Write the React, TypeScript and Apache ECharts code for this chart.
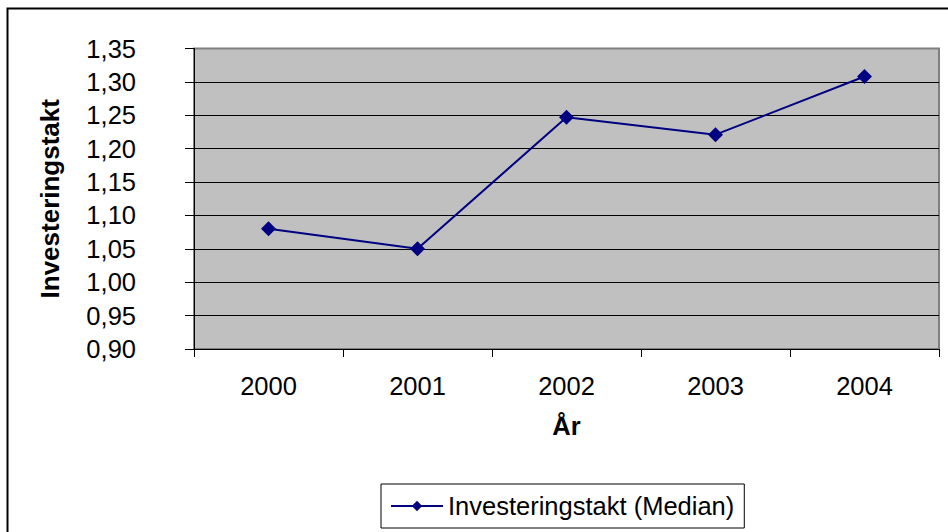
import React, { useEffect, useRef } from "react";
import * as echarts from "echarts";

const years = ["2000", "2001", "2002", "2003", "2004"];
const medianValues = [1.08, 1.05, 1.247, 1.221, 1.308];
const seriesName = "Investeringstakt (Median)";
const yAxisTitle = "Investeringstakt";
const xAxisTitle = "År";

const FONT = "'Liberation Sans', Arial, sans-serif";

export default function App() {
  const ref = useRef<HTMLDivElement>(null);
  useEffect(() => {
    document.body.style.margin = "0";
    if (!ref.current) return;
    const chart = echarts.init(ref.current, undefined, { renderer: "svg" });
    chart.setOption({
      animation: false,
      backgroundColor: "#ffffff",
      textStyle: { fontFamily: FONT },
      grid: {
        left: 194,
        right: 9,
        top: 48.5,
        bottom: 183,
        show: true,
        backgroundColor: "#C0C0C0",
        borderColor: "#808080",
        borderWidth: 2,
      },
      xAxis: {
        type: "category",
        data: years,
        boundaryGap: true,
        name: xAxisTitle,
        nameLocation: "middle",
        nameGap: 64,
        nameTextStyle: { fontFamily: FONT, fontSize: 25.5, fontWeight: "bold", color: "#000" },
        axisLine: { show: true, lineStyle: { color: "#000", width: 1 } },
        axisTick: { show: true, length: 8, lineStyle: { color: "#000" }, alignWithLabel: false },
        axisLabel: { fontFamily: FONT, fontSize: 25.5, color: "#000", margin: 24 },
        splitLine: { show: false },
      },
      yAxis: {
        type: "value",
        min: 0.9,
        max: 1.35,
        interval: 0.05,
        name: yAxisTitle,
        nameLocation: "middle",
        nameGap: 131,
        nameTextStyle: { fontFamily: FONT, fontSize: 26, fontWeight: "bold", color: "#000" },
        axisLine: { show: true, lineStyle: { color: "#000", width: 1 } },
        axisTick: { show: true, length: 9, lineStyle: { color: "#000" } },
        axisLabel: {
          fontFamily: FONT,
          fontSize: 25.5,
          color: "#000",
          margin: 58,
          align: "right",
          formatter: (v: number) => v.toFixed(2).replace(".", ","),
        },
        splitLine: { show: true, showMaxLine: false, lineStyle: { color: "#000", width: 1 } },
      },
      legend: {
        show: true,
        bottom: 4,
        left: 381,
        orient: "horizontal",
        backgroundColor: "#fff",
        borderColor: "#000",
        borderWidth: 1,
        padding: [9, 10, 9, 9],
        itemWidth: 52,
        itemHeight: 13,
        itemGap: 10,
        textStyle: { fontFamily: FONT, fontSize: 25.5, color: "#000" },
        data: [{ name: seriesName }],
      },
      graphic: [
        {
          type: "rect",
          left: 5,
          top: 6,
          shape: { x: 0, y: 0, width: 960, height: 560 },
          style: { fill: "none", stroke: "#000", lineWidth: 2 },
          silent: true,
          z: 100,
        },
      ],
      series: [
        {
          name: seriesName,
          type: "line",
          data: medianValues,
          symbol: "diamond",
          symbolSize: 15,
          itemStyle: { color: "#000080" },
          lineStyle: { color: "#000080", width: 2 },
        },
      ],
    });
    return () => chart.dispose();
  }, []);
  return <div ref={ref} style={{ width: 948, height: 532 }} />;
}
